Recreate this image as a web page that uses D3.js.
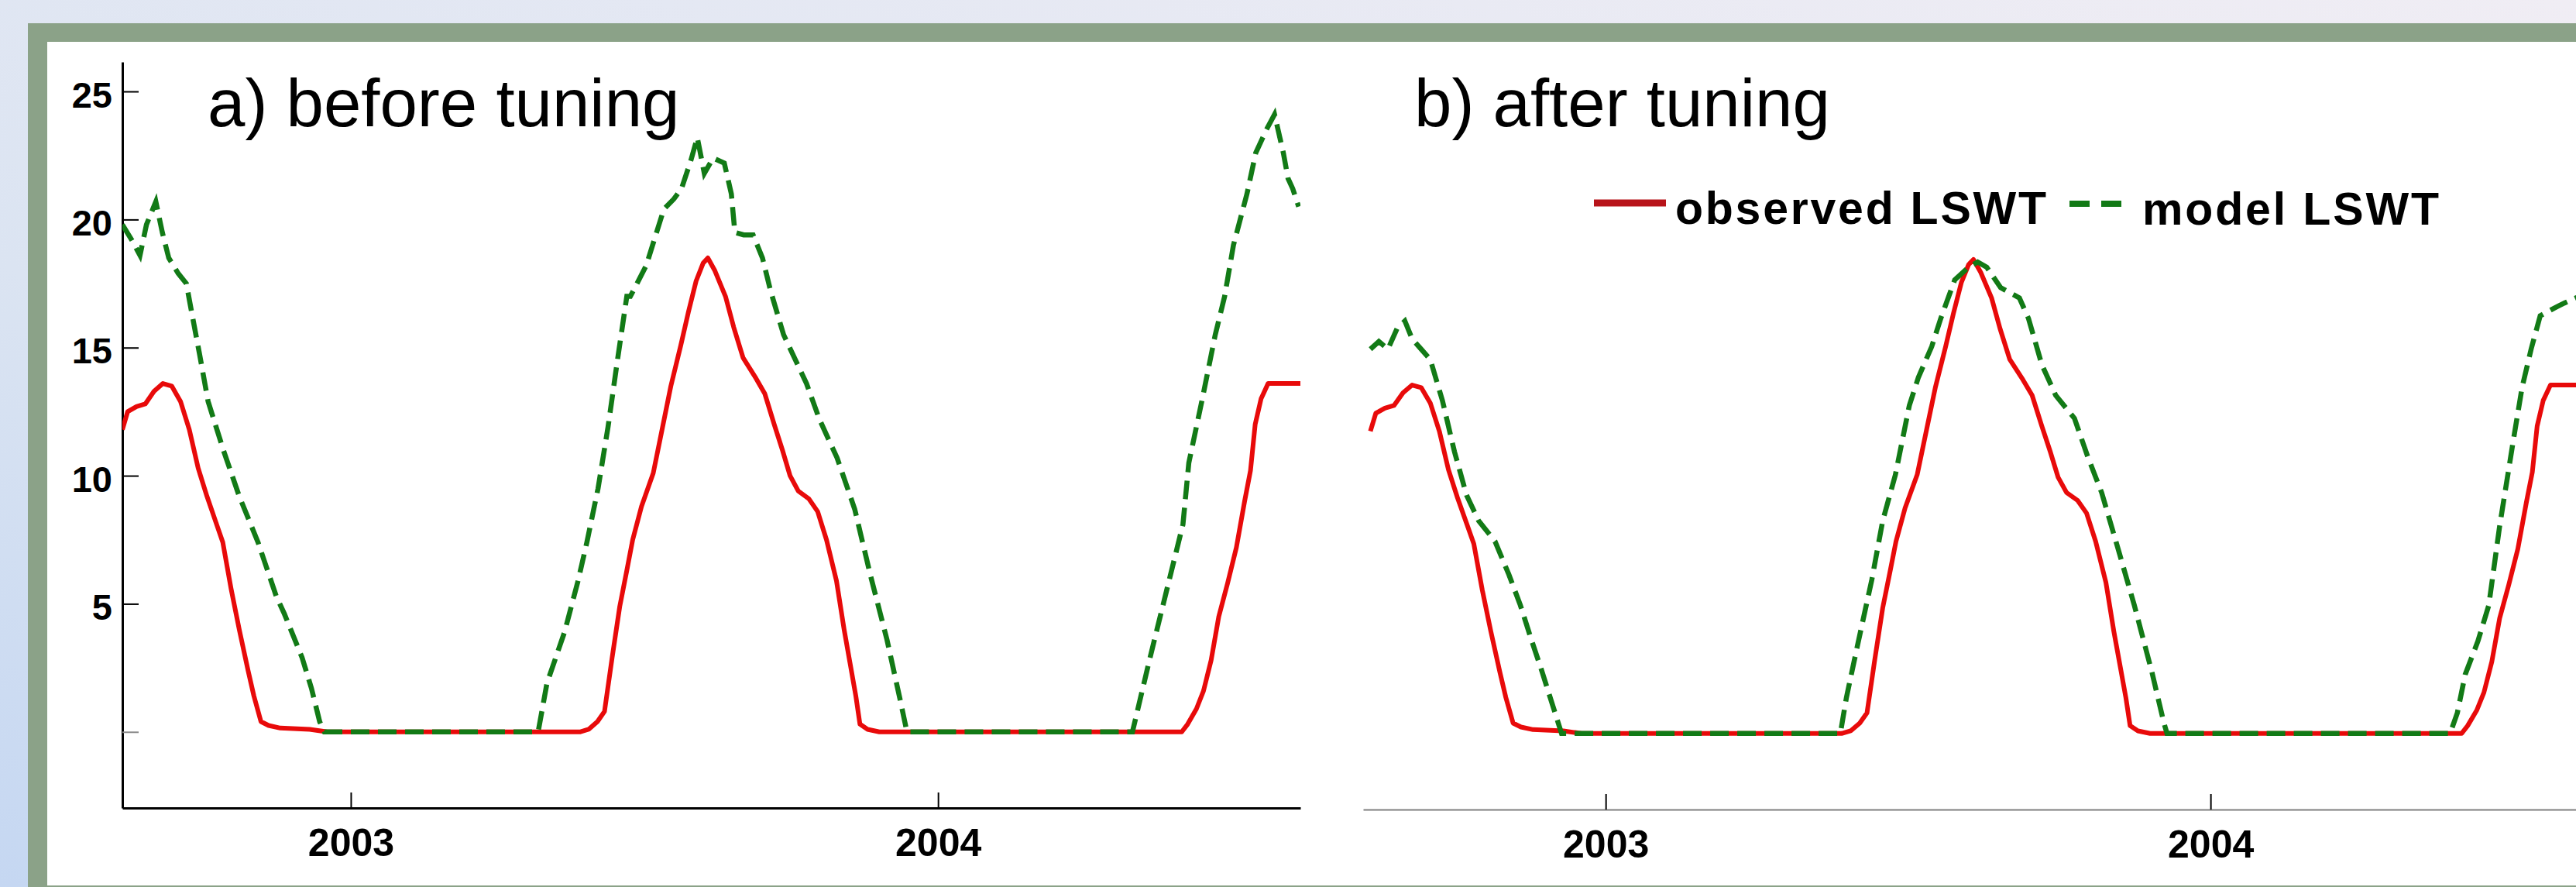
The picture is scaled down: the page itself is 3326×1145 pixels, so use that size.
<!DOCTYPE html>
<html>
<head>
<meta charset="utf-8">
<script src="https://cdn.jsdelivr.net/npm/d3@7"></script>
<style>
  body { margin: 0; padding: 0; overflow: hidden; }
  svg { display: block; }
  .tick text { font-family: "Liberation Sans", Arial, sans-serif; font-weight: bold; fill: #000; }
</style>
</head>
<body>
<div id="chart"></div>
<script>
// observed lake surface water temperature (same in both panels)
var obsDates = [2002.611, 2002.620, 2002.635, 2002.650, 2002.665, 2002.680, 2002.695, 2002.710, 2002.725,
  2002.740, 2002.755, 2002.770, 2002.782, 2002.796, 2002.810, 2002.825, 2002.835, 2002.847, 2002.860,
  2002.880, 2002.930, 2002.960, 2003.390, 2003.405, 2003.420, 2003.432, 2003.445, 2003.458, 2003.470,
  2003.480, 2003.495, 2003.515, 2003.530, 2003.545, 2003.562, 2003.575, 2003.588, 2003.600, 2003.608,
  2003.620, 2003.638, 2003.652, 2003.668, 2003.690, 2003.705, 2003.721, 2003.735, 2003.748, 2003.762,
  2003.780, 2003.795, 2003.810, 2003.827, 2003.840, 2003.850, 2003.860, 2003.867, 2003.880, 2003.900,
  2004.415, 2004.425, 2004.440, 2004.452, 2004.465, 2004.478, 2004.493, 2004.508, 2004.522, 2004.532,
  2004.540, 2004.550, 2004.562, 2004.617];
var obsLSWT = [11.8, 12.5, 12.7, 12.8, 13.3, 13.6, 13.5, 12.9, 11.8,
  10.3, 9.2, 8.2, 7.4, 5.6, 4.0, 2.4, 1.4, 0.4, 0.25,
  0.15, 0.1, 0.0, 0.0, 0.1, 0.4, 0.8, 2.9, 4.9, 6.3,
  7.5, 8.8, 10.1, 11.8, 13.5, 15.1, 16.4, 17.6, 18.3, 18.5,
  18.0, 17.0, 15.8, 14.6, 13.8, 13.2, 12.0, 11.0, 10.0, 9.4,
  9.1, 8.6, 7.5, 5.9, 4.0, 2.7, 1.4, 0.3, 0.1, 0.0,
  0.0, 0.3, 0.9, 1.6, 2.8, 4.5, 5.8, 7.2, 9.0, 10.2,
  12.0, 13.0, 13.6, 13.6];

// model before tuning
var beforeDates = [2002.611, 2002.627, 2002.641, 2002.652, 2002.668, 2002.679, 2002.690, 2002.706, 2002.720,
  2002.728, 2002.742, 2002.757, 2002.783, 2002.810, 2002.842, 2002.873, 2002.887, 2002.917, 2002.933,
  2002.947, 2002.955, 2003.319, 2003.334, 2003.364, 2003.387, 2003.402, 2003.421, 2003.438, 2003.454,
  2003.470, 2003.476, 2003.503, 2003.518, 2003.533, 2003.550, 2003.563, 2003.579, 2003.590, 2003.602,
  2003.617, 2003.636, 2003.648, 2003.654, 2003.669, 2003.685, 2003.701, 2003.715, 2003.737, 2003.776,
  2003.798, 2003.828, 2003.858, 2003.885, 2003.913, 2003.935, 2003.947, 2004.331, 2004.361, 2004.389,
  2004.417, 2004.427, 2004.450, 2004.472, 2004.488, 2004.503, 2004.526, 2004.541, 2004.559, 2004.573,
  2004.588, 2004.596, 2004.604, 2004.614];
var beforeLSWT = [19.8, 19.2, 18.6, 19.8, 20.7, 19.5, 18.5, 17.9, 17.5,
  16.5, 14.8, 12.9, 11.0, 9.2, 7.4, 5.3, 4.6, 2.9, 1.7,
  0.4, 0.0, 0.0, 1.9, 3.9, 5.9, 7.4, 9.5, 11.9, 14.5,
  17.0, 17.0, 18.2, 19.3, 20.4, 20.8, 21.2, 22.3, 23.2, 21.8,
  22.4, 22.2, 21.0, 19.5, 19.4, 19.4, 18.5, 17.2, 15.5, 13.6,
  12.2, 10.7, 8.7, 6.1, 3.6, 1.3, 0.0, 0.0, 2.9, 5.5,
  8.1, 10.5, 13.0, 15.5, 17.0, 19.0, 21.0, 22.6, 23.5, 24.1,
  22.6, 21.6, 21.2, 20.5];

// model after tuning
var afterDates = [2002.611, 2002.625, 2002.640, 2002.655, 2002.668, 2002.680, 2002.695, 2002.710, 2002.730,
  2002.750, 2002.770, 2002.790, 2002.817, 2002.840, 2002.859, 2002.878, 2002.895, 2002.915, 2002.927,
  2003.388, 2003.398, 2003.416, 2003.440, 2003.458, 2003.479, 2003.502, 2003.517, 2003.539, 2003.554,
  2003.577, 2003.600, 2003.615, 2003.630, 2003.653, 2003.684, 2003.699, 2003.721, 2003.744, 2003.775,
  2003.797, 2003.820, 2003.846, 2003.874, 2003.903, 2003.923, 2003.928, 2004.396, 2004.408, 2004.421,
  2004.442, 2004.460, 2004.478, 2004.501, 2004.515, 2004.530, 2004.545, 2004.568, 2004.585, 2004.604,
  2004.617];
var afterLSWT = [15.0, 15.3, 15.0, 15.8, 16.1, 15.4, 15.0, 14.6, 13.0,
  11.0, 9.3, 8.3, 7.5, 6.2, 5.0, 3.6, 2.4, 0.9, 0.0,
  0.0, 1.4, 3.4, 6.0, 8.3, 10.1, 12.8, 13.9, 15.1, 16.2,
  17.7, 18.2, 18.4, 18.2, 17.4, 17.0, 16.2, 14.4, 13.2, 12.3,
  10.8, 9.4, 7.3, 5.0, 2.4, 0.4, 0.0, 0.0, 0.8, 2.3,
  3.6, 5.0, 8.1, 11.5, 13.5, 15.0, 16.3, 16.6, 16.8, 17.0,
  17.1];

var yTicks = [0, 5, 10, 15, 20, 25];
var xTicks = [2003, 2004];
var panelTitles = ["a) before tuning", "b) after tuning"];
var legendLabels = ["observed LSWT", "model LSWT"];

var svgWidth = 3326;
var svgHeight = 1145;

var red = "#e80a0a";
var green = "#127a16";

function pairs(dates, values) {
    return dates.map((d, i) => [d, values[i]]);
}

var svg = d3.select("#chart").append("svg")
    .attr("width", svgWidth)
    .attr("height", svgHeight);

// background, frame
var defs = svg.append("defs");
var grad = defs.append("linearGradient")
    .attr("id", "bg")
    .attr("x1", "0").attr("y1", "1")
    .attr("x2", "1").attr("y2", "0");
grad.append("stop").attr("offset", "0").attr("stop-color", "#c5d7f2");
grad.append("stop").attr("offset", "0.35").attr("stop-color", "#dbe4f2");
grad.append("stop").attr("offset", "1").attr("stop-color", "#f0edf4");

svg.append("rect")
    .attr("width", svgWidth).attr("height", svgHeight)
    .attr("fill", "url(#bg)");

svg.append("rect")
    .attr("x", 36).attr("y", 30)
    .attr("width", svgWidth).attr("height", svgHeight)
    .attr("fill", "#8ba288");

svg.append("rect")
    .attr("x", 61).attr("y", 54)
    .attr("width", svgWidth).attr("height", 1089)
    .attr("fill", "#ffffff");

var fontFamily = '"Liberation Sans", Arial, sans-serif';

function drawPanel(opts) {
    var x = d3.scaleLinear()
        .domain([opts.x0, opts.x1])
        .range([opts.left, opts.right]);

    var y = d3.scaleLinear()
        .domain([-2.97, 26.15])
        .range([opts.bottom, opts.top]);

    var g = svg.append("g");

    var clipId = "clip" + opts.id;
    defs.append("clipPath").attr("id", clipId)
        .append("rect")
        .attr("x", opts.left).attr("y", opts.top - 20)
        .attr("width", opts.right - opts.left).attr("height", opts.bottom - opts.top + 20);

    // y axis
    var yAxis = g.append("g")
        .attr("transform", `translate(${opts.left}, 0)`)
        .call(d3.axisLeft(y)
            .tickValues(yTicks)
            .tickSizeInner(-21)
            .tickSizeOuter(0)
            .tickPadding(13)
            .tickFormat(d => d === 0 ? "" : d));
    yAxis.select(".domain")
        .attr("stroke", opts.showY ? "#000" : "none")
        .attr("stroke-width", 3);
    yAxis.selectAll(".tick line")
        .attr("stroke", d => d === 0 ? "#8a8a8a" : "#000")
        .attr("stroke-width", 2)
        .attr("opacity", opts.showY ? 1 : 0);
    yAxis.selectAll(".tick text")
        .attr("font-size", 47)
        .attr("dy", "0.43em")
        .attr("opacity", opts.showY ? 1 : 0);

    // x axis
    var xAxis = g.append("g")
        .attr("transform", `translate(0, ${opts.bottom})`)
        .call(d3.axisBottom(x)
            .tickValues(xTicks)
            .tickSizeInner(-20)
            .tickSizeOuter(0)
            .tickPadding(26)
            .tickFormat(d3.format("d")));
    xAxis.select(".domain")
        .attr("stroke", opts.xAxisColor)
        .attr("stroke-width", opts.xAxisWidth);
    xAxis.selectAll(".tick line")
        .attr("stroke", "#000")
        .attr("stroke-width", 2);
    xAxis.selectAll(".tick text")
        .attr("font-size", 50);

    var line = d3.line()
        .x(d => x(d[0]))
        .y(d => y(d[1]));

    var lines = g.append("g").attr("clip-path", `url(#${clipId})`);

    lines.append("path")
        .datum(pairs(obsDates, obsLSWT))
        .attr("fill", "none")
        .attr("stroke", red)
        .attr("stroke-width", 6)
        .attr("stroke-linejoin", "round")
        .attr("d", line);

    lines.append("path")
        .datum(pairs(opts.modelDates, opts.modelValues))
        .attr("fill", "none")
        .attr("stroke", green)
        .attr("stroke-width", 6.5)
        .attr("stroke-dasharray", "24,11")
        .attr("d", line);

    g.append("text")
        .attr("x", opts.titleX)
        .attr("y", 163)
        .attr("font-family", fontFamily)
        .attr("font-size", 87)
        .attr("fill", "#000")
        .text(opts.title);

    return { x: x, y: y, g: g };
}

var panelA = drawPanel({
    id: "a",
    x0: 2002.611, x1: 2004.617,
    left: 158, right: 1679,
    top: 80, bottom: 1043,
    showY: true,
    xAxisColor: "#000", xAxisWidth: 3,
    modelDates: beforeDates, modelValues: beforeLSWT,
    title: panelTitles[0], titleX: 268
});

var panelB = drawPanel({
    id: "b",
    x0: 2002.599, x1: 2004.617,
    left: 1760, right: 3336,
    top: 82, bottom: 1045,
    showY: false,
    xAxisColor: "#7f7f7f", xAxisWidth: 2,
    modelDates: afterDates, modelValues: afterLSWT,
    title: panelTitles[1], titleX: 1826
});

// legend (panel b)
var legend = svg.append("g");

legend.append("line")
    .attr("x1", 2058).attr("x2", 2151)
    .attr("y1", 262).attr("y2", 262)
    .attr("stroke", "#b8141a")
    .attr("stroke-width", 9);

legend.append("text")
    .attr("x", 2163).attr("y", 289)
    .attr("font-family", fontFamily)
    .attr("font-weight", "bold")
    .attr("font-size", 59)
    .attr("textLength", 479)
    .attr("lengthAdjust", "spacing")
    .text(legendLabels[0]);

legend.append("line")
    .attr("x1", 2672).attr("x2", 2743)
    .attr("y1", 263).attr("y2", 263)
    .attr("stroke", green)
    .attr("stroke-width", 8)
    .attr("stroke-dasharray", "26,15");

legend.append("text")
    .attr("x", 2766).attr("y", 290)
    .attr("font-family", fontFamily)
    .attr("font-weight", "bold")
    .attr("font-size", 59)
    .attr("textLength", 383)
    .attr("lengthAdjust", "spacing")
    .text(legendLabels[1]);
</script>
</body>
</html>
